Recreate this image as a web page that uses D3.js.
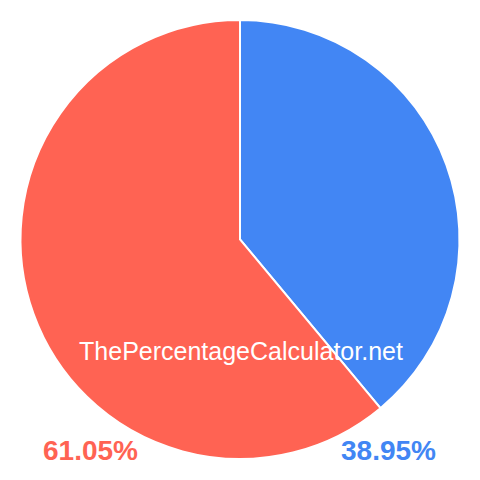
<!DOCTYPE html>
<html>
<head>
    <meta charset="utf-8">
    <script src="https://d3js.org/d3.v7.min.js"></script>
    <style>
        body { margin: 0; background: #fff; }
        text { font-family: "Liberation Sans", Arial, sans-serif; }
    </style>
</head>
<body>
    <div class="pie-chart"></div>

<script>
    // slices, clockwise from 12 o'clock
    const labels = ['38.95%', '61.05%'];
    const values = [38.95, 61.05];
    const colors = ['#4286f4', '#ff6353'];
    const watermark = 'ThePercentageCalculator.net';

    const width = 480;
    const height = 480;
    const radius = 219.5;

    const svg = d3.select('.pie-chart')
        .append('svg')
        .attr('width', width)
        .attr('height', height);

    const g = svg.append('g')
        .attr('transform', 'translate(240,239.5)');

    const pie = d3.pie().sort(null).value(d => d);
    const arc = d3.arc().innerRadius(0).outerRadius(radius);

    g.selectAll('path')
        .data(pie(values))
        .enter()
        .append('path')
        .attr('d', arc)
        .attr('fill', (d, i) => colors[i])
        .attr('stroke', '#fff')
        .attr('stroke-width', 2);

    svg.append('text')
        .attr('x', 241)
        .attr('y', 360)
        .attr('text-anchor', 'middle')
        .attr('font-size', 25)
        .attr('fill', '#fff')
        .text(watermark);

    // percentage labels under the pie
    const labelX = d3.scalePoint().domain([1, 0]).range([90.5, 388.5]);

    svg.selectAll('.pct')
        .data(labels)
        .enter()
        .append('text')
        .attr('class', 'pct')
        .attr('x', (d, i) => labelX(i))
        .attr('y', 460)
        .attr('text-anchor', 'middle')
        .attr('font-size', 28)
        .attr('font-weight', 'bold')
        .attr('fill', (d, i) => colors[i])
        .text(d => d);
</script>
</body>
</html>
